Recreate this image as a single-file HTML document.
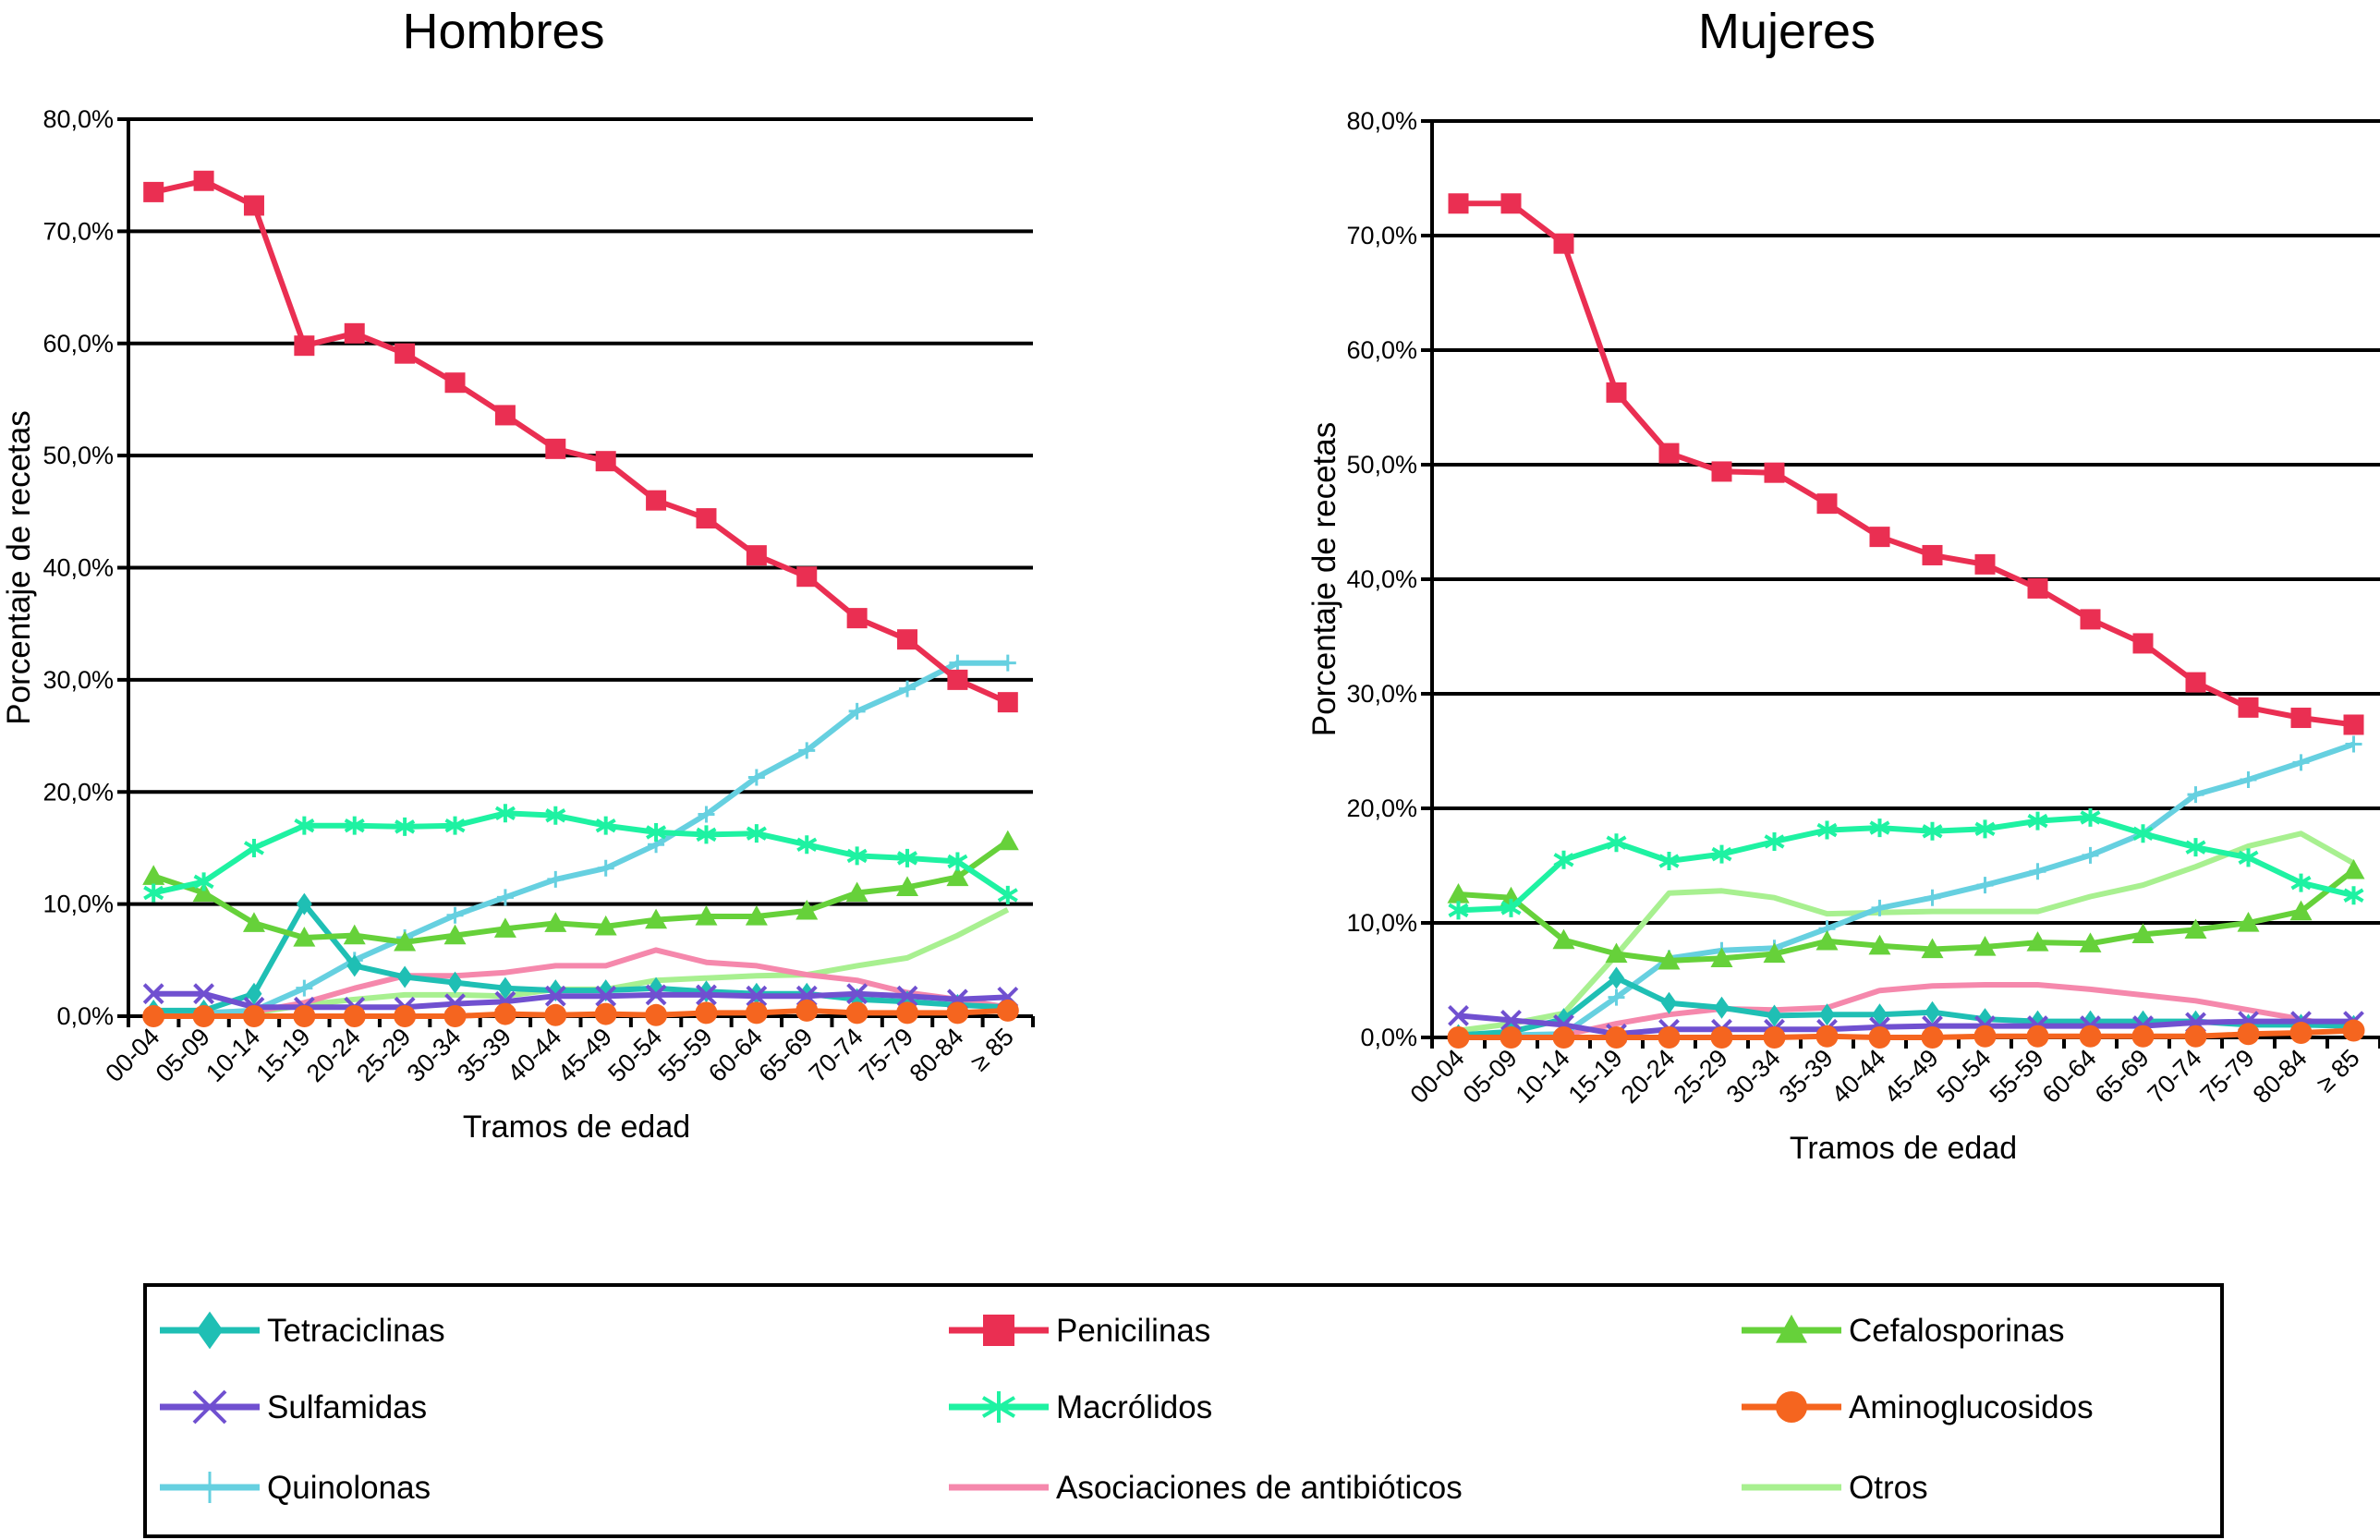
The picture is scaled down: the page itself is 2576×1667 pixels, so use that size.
<!DOCTYPE html>
<html><head><meta charset="utf-8"><style>
html,body{margin:0;padding:0;background:#fff;}
svg{display:block;font-family:"Liberation Sans",Arial,sans-serif;}
</style></head><body>
<svg id="svg" width="2576" height="1667" viewBox="0 0 2576 1667" xmlns="http://www.w3.org/2000/svg"></svg>
<script>
const categories = ["00-04","05-09","10-14","15-19","20-24","25-29","30-34","35-39","40-44","45-49","50-54","55-59","60-64","65-69","70-74","75-79","80-84","≥ 85"];
const yTicks = [0,10,20,30,40,50,60,70,80];
const yTickLabels = ["0,0%","10,0%","20,0%","30,0%","40,0%","50,0%","60,0%","70,0%","80,0%"];
const seriesNames = ["Tetraciclinas","Penicilinas","Cefalosporinas","Sulfamidas","Macrólidos","Aminoglucosidos","Quinolonas","Asociaciones de antibióticos","Otros"];
// Hombres
const hTetraciclinas = [0.5,0.5,2,10,4.5,3.5,3,2.5,2.3,2.3,2.5,2.2,2,2,1.5,1.3,1,0.8];
const hPenicilinas = [73.5,74.5,72.3,59.8,60.9,59.1,56.5,53.6,50.6,49.5,46.0,44.4,41.1,39.2,35.5,33.6,30.0,28.0];
const hCefalosporinas = [12.5,11,8.3,7,7.2,6.6,7.2,7.8,8.3,8,8.6,8.9,8.9,9.4,11,11.5,12.4,15.6];
const hSulfamidas = [2,2,0.8,0.8,0.8,0.8,1.1,1.3,1.8,1.8,1.9,1.9,1.8,1.8,2,1.8,1.5,1.7];
const hMacrolidos = [11,12,15,17,17,16.9,17,18.1,17.9,17,16.4,16.2,16.3,15.3,14.3,14.1,13.8,10.8];
const hAminoglucosidos = [0,0,0,0,0,0,0,0.2,0.1,0.2,0.1,0.3,0.3,0.5,0.3,0.3,0.3,0.5];
const hQuinolonas = [0.3,0.3,0.5,2.5,5,7,9,10.6,12.2,13.2,15.3,18,21.3,23.7,27.2,29.2,31.5,31.5];
const hAsociaciones = [0.3,0.3,0.4,1.2,2.5,3.6,3.6,3.9,4.5,4.5,5.9,4.8,4.5,3.7,3.2,2.1,1.5,0.8];
const hOtros = [0.3,0.3,0.3,1,1.5,1.9,1.9,1.8,2.4,2.4,3.2,3.4,3.6,3.7,4.5,5.2,7.2,9.5];
// Mujeres
const mTetraciclinas = [0.2,0.5,1.6,5.2,3,2.6,1.9,2,2,2.2,1.6,1.4,1.4,1.4,1.4,1.1,1.1,1.0];
const mPenicilinas = [72.8,72.8,69.3,56.3,51,49.4,49.3,46.6,43.7,42.1,41.3,39.2,36.5,34.4,31,28.8,27.9,27.3];
const mCefalosporinas = [12.5,12.2,8.5,7.3,6.7,6.9,7.3,8.4,8,7.7,7.9,8.3,8.2,9,9.4,10,11,14.6];
const mSulfamidas = [1.9,1.5,1.1,0.3,0.7,0.7,0.7,0.7,0.9,1,1,1,1,1,1.3,1.4,1.4,1.4];
const mMacrolidos = [11.1,11.3,15.5,17,15.4,16,17.1,18.1,18.3,18,18.2,18.9,19.2,17.8,16.6,15.7,13.5,12.4];
const mAminoglucosidos = [0,0,0,0,0,0,0,0.1,0,0,0.1,0.1,0.1,0.1,0.1,0.3,0.4,0.6];
const mQuinolonas = [0.2,0.2,0.3,3.5,6.9,7.6,7.8,9.5,11.3,12.2,13.3,14.5,15.9,17.8,21.2,22.5,24,25.6];
const mAsociaciones = [0.2,0.2,0.2,1.2,2,2.5,2.4,2.6,4.1,4.5,4.6,4.6,4.2,3.7,3.2,2.4,1.6,0.7];
const mOtros = [0.6,1.2,2.1,7.2,12.6,12.8,12.2,10.8,10.9,11,11,11,12.3,13.3,14.9,16.7,17.8,15.2];

const NS = "http://www.w3.org/2000/svg";
const svg = document.getElementById('svg');
function mk(tag, attrs, parent){ const e=document.createElementNS(NS,tag); for(const k in attrs) e.setAttribute(k,attrs[k]); (parent||svg).appendChild(e); return e; }

const styles = {
 "Tetraciclinas":{c:"#1fbfb4",m:"diamond",ms:20},
 "Penicilinas":{c:"#ea2f52",m:"square",ms:22},
 "Cefalosporinas":{c:"#66d13a",m:"triangle",ms:24},
 "Sulfamidas":{c:"#7050d0",m:"x",ms:20},
 "Macrólidos":{c:"#1ef2a2",m:"star",ms:20},
 "Aminoglucosidos":{c:"#f5651f",m:"circle",ms:24},
 "Quinolonas":{c:"#66d0e0",m:"plus",ms:18},
 "Asociaciones de antibióticos":{c:"#f588ac",m:"none",ms:0},
 "Otros":{c:"#a8f090",m:"none",ms:0}
};

function marker(g, type, x, y, s, c){
  const h=s/2;
  if(type==="square") return mk('rect',{x:x-h,y:y-h,width:s,height:s,fill:c},g);
  if(type==="circle") return mk('circle',{cx:x,cy:y,r:h,fill:c},g);
  if(type==="diamond") return mk('polygon',{points:`${x},${y-h*1.2} ${x+h*0.85},${y} ${x},${y+h*1.2} ${x-h*0.85},${y}`,fill:c},g);
  if(type==="triangle") return mk('polygon',{points:`${x},${y-h} ${x+h},${y+h*0.8} ${x-h},${y+h*0.8}`,fill:c},g);
  if(type==="x") return mk('path',{d:`M${x-h},${y-h}L${x+h},${y+h}M${x-h},${y+h}L${x+h},${y-h}`,stroke:c,'stroke-width':4,fill:'none'},g);
  if(type==="plus") return mk('path',{d:`M${x},${y-h}L${x},${y+h}M${x-h},${y}L${x+h},${y}`,stroke:c,'stroke-width':3,fill:'none'},g);
  if(type==="star") return mk('path',{d:`M${x},${y-h}L${x},${y+h}M${x-h},${y-h*0.6}L${x+h},${y+h*0.6}M${x-h},${y+h*0.6}L${x+h},${y-h*0.6}`,stroke:c,'stroke-width':4,fill:'none'},g);
}

function drawChart(cfg){
  const g = mk('g',{});
  
  
  const n = categories.length;
  const band = cfg.w / n;
  const xS = i => cfg.x0 + band*(i+0.5);
  const yS = v => cfg.y0 - (v/80)*(cfg.y0-cfg.yTop);
  const t = mk('text',{x:cfg.titleX,y:52,'font-size':54,'text-anchor':'middle',fill:'#000'},g);
  t.textContent = cfg.title;
  
  
  yTicks.forEach((v,i)=>{
    const y = yS(v);
    if(v>0){ const l=mk('line',{x1:cfg.x0,x2:cfg.x0+cfg.w,y1:y,y2:y,stroke:'#000','stroke-width':4},g);
        }
    mk('line',{x1:cfg.x0-12,x2:cfg.x0,y1:y,y2:y,stroke:'#000','stroke-width':4},g);
    const tl = mk('text',{x:cfg.x0-16,y:y+9,'font-size':27,'text-anchor':'end',fill:'#000'},g);
    tl.textContent = yTickLabels[i];
    
    
  });
  const ya = mk('line',{x1:cfg.x0,x2:cfg.x0,y1:cfg.yTop-2,y2:cfg.y0+12,stroke:'#000','stroke-width':4},g);
   
  const xa = mk('line',{x1:cfg.x0,x2:cfg.x0+cfg.w,y1:cfg.y0,y2:cfg.y0,stroke:'#000','stroke-width':4},g);
   
  for(let i=1;i<=n;i++){ mk('line',{x1:cfg.x0+band*i,x2:cfg.x0+band*i,y1:cfg.y0,y2:cfg.y0+12,stroke:'#000','stroke-width':4},g); }
  categories.forEach((c,i)=>{
    const x = xS(i)+8, y = cfg.y0+24;
    const tl = mk('text',{x:x,y:y,'font-size':27,'text-anchor':'end',transform:`rotate(-45 ${x} ${y})`,fill:'#000'},g);
    tl.textContent = c;
    
    
  });
  const yt = mk('text',{x:0,y:0,'font-size':35,'text-anchor':'middle',transform:`translate(${cfg.yTitleX},${(cfg.yTop+cfg.y0)/2}) rotate(-90)`,fill:'#000'},g);
  yt.textContent = "Porcentaje de recetas";
   
  const xt = mk('text',{x:cfg.xTitleX,y:cfg.xTitleY,'font-size':34,'text-anchor':'middle',fill:'#000'},g);
  xt.textContent = "Tramos de edad";
   
  const order = ["Otros","Asociaciones de antibióticos","Quinolonas","Tetraciclinas","Sulfamidas","Cefalosporinas","Macrólidos","Penicilinas","Aminoglucosidos"];
  order.forEach(name=>{
    const vals = cfg.data[name], st = styles[name];
    const sg = mk('g',{},g);
    
    
    const pts = vals.map((v,i)=>`${xS(i).toFixed(1)},${yS(v).toFixed(1)}`).join(' ');
    mk('polyline',{points:pts,fill:'none',stroke:st.c,'stroke-width':6,'stroke-linejoin':'round'},sg);
    if(st.m!=="none") vals.forEach((v,i)=>{
      const mm = marker(sg, st.m, xS(i), yS(v), st.ms, st.c);
      
      
    });
  });
}

drawChart({name:'hombres-chart',title:'Hombres',titleX:545,x0:139,w:979,yTop:129,y0:1100,yTitleX:32,xTitleX:624,xTitleY:1231,
 data:{"Tetraciclinas":hTetraciclinas,"Penicilinas":hPenicilinas,"Cefalosporinas":hCefalosporinas,"Sulfamidas":hSulfamidas,"Macrólidos":hMacrolidos,"Aminoglucosidos":hAminoglucosidos,"Quinolonas":hQuinolonas,"Asociaciones de antibióticos":hAsociaciones,"Otros":hOtros}});
drawChart({name:'mujeres-chart',title:'Mujeres',titleX:1934,x0:1550,w:1026,yTop:131,y0:1123,yTitleX:1445,xTitleX:2060,xTitleY:1254,
 data:{"Tetraciclinas":mTetraciclinas,"Penicilinas":mPenicilinas,"Cefalosporinas":mCefalosporinas,"Sulfamidas":mSulfamidas,"Macrólidos":mMacrolidos,"Aminoglucosidos":mAminoglucosidos,"Quinolonas":mQuinolonas,"Asociaciones de antibióticos":mAsociaciones,"Otros":mOtros}});

const lg = mk('g',{});


mk('rect',{x:157,y:1391,width:2248,height:272,fill:'#fff',stroke:'#000','stroke-width':4},lg);
const colX = [173,1027,1885];
const rowY = [1440,1523,1610];
seriesNames.forEach((name,i)=>{
  const col = i%3, row = Math.floor(i/3);
  const x = colX[col], y = rowY[row], st = styles[name];
  const eg = mk('g',{},lg);
  
  
  mk('line',{x1:x,x2:x+108,y1:y,y2:y,stroke:st.c,'stroke-width':7},eg);
  if(st.m!=="none") marker(eg, st.m, x+54, y, 34, st.c);
  const tx = mk('text',{x:x+116,y:y+12,'font-size':35,fill:'#000'},eg);
  tx.textContent = name;
  
  
});
</script>
</body></html>
